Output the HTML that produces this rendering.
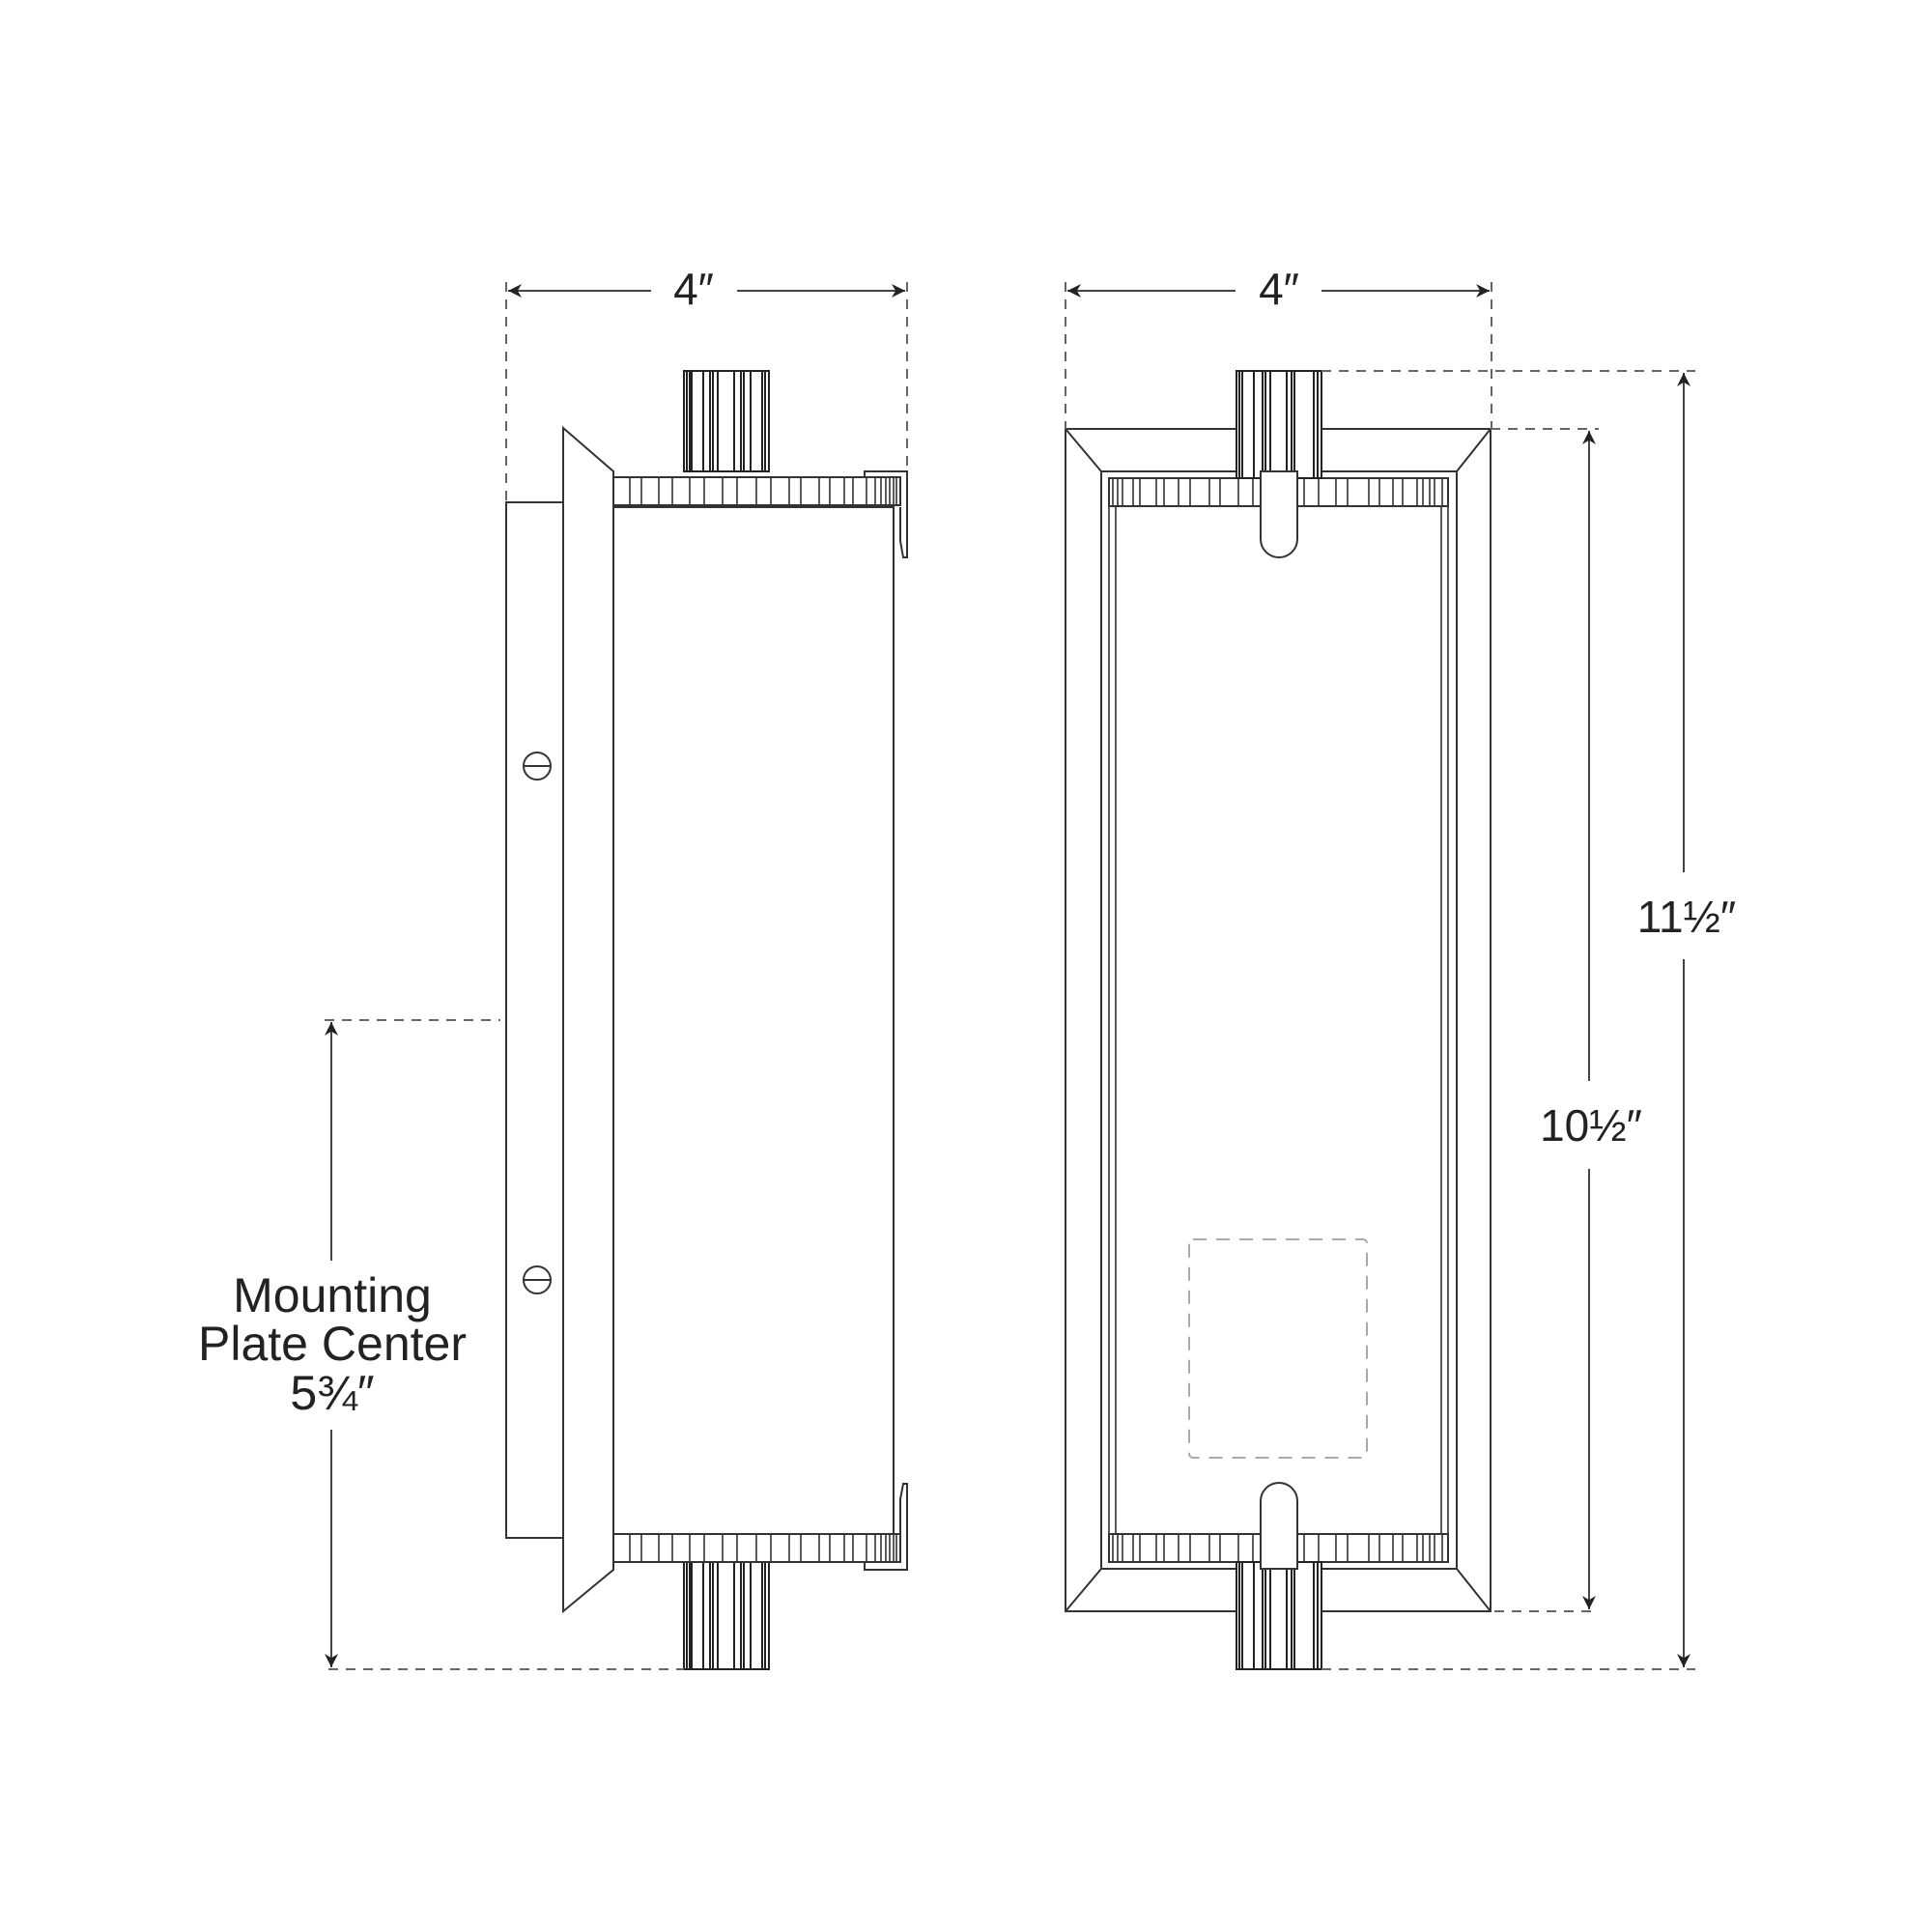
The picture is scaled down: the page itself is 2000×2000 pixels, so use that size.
<!DOCTYPE html>
<html><head><meta charset="utf-8"><style>
html,body{margin:0;padding:0;background:#fff}
svg{display:block}
text{font-family:"Liberation Sans",sans-serif;fill:#222}
</style></head><body>
<svg width="2000" height="2000" viewBox="0 0 2000 2000" xmlns="http://www.w3.org/2000/svg">
<defs>
<marker id="ah" viewBox="0 0 10 10" refX="10" refY="5" markerWidth="14" markerHeight="14" markerUnits="userSpaceOnUse" orient="auto-start-reverse"><path d="M0,0 L10,5 L0,10 L3,5 Z" fill="#222"/></marker>
<g id="bandL"><rect x="635" y="0" width="297" height="29" fill="#fff" stroke="#333" stroke-width="2"/>
<path stroke="#333" stroke-width="1.6" d="M652 0v29M664 0v29M682 0v29M696 0v29M714 0v29M729 0v29M748 0v29M763 0v29M783 0v29M798 0v29M817 0v29M829 0v29M848 0v29M859 0v29M874 0v29M883 0v29M897 0v29M906 0v29M912 0v29M917 0v29M921 0v29M925 0v29M928 0v29"/></g>
<g id="stemL"><rect x="708" y="0" width="88" height="1" fill="none"/>
<path stroke="#222" stroke-width="1.8" d="M708 0v1M710 0v1M713 0v1M715 0v1M728 0v1M735 0v1M738 0v1M743 0v1M760 0v1M767 0v1M769 0v1M777 0v1M789 0v1M791 0v1M796 0v1"/></g>
<g id="bandR"><rect x="1148" y="0" width="351" height="29" fill="#fff" stroke="#333" stroke-width="2"/>
<path stroke="#333" stroke-width="1.6" d="M1152 0v29M1157 0v29M1162 0v29M1173 0v29M1180 0v29M1197 0v29M1205 0v29M1220 0v29M1232 0v29M1252 0v29M1263 0v29M1282 0v29M1297 0v29M1350 0v29M1365 0v29M1383 0v29M1395 0v29M1417 0v29M1428 0v29M1442 0v29M1452 0v29M1467 0v29M1473 0v29M1480 0v29M1485 0v29M1493 0v29"/></g>
</defs>
<g fill="none" stroke="#333" stroke-width="2">
<!-- LEFT VIEW -->
<rect x="524" y="520" width="59" height="1072"/>
<path d="M583 443 L635 488 L635 1625 L583 1668 Z" fill="#fff"/>
<rect x="635" y="525" width="290" height="1063"/>
<!-- stems -->
<g stroke="#222" stroke-width="2">
<rect x="708" y="384" width="88" height="104" fill="#fff"/>
<path d="M711 384v104M714 384v104M716 384v104M728 384v104M735 384v104M738 384v104M743 384v104M760 384v104M767 384v104M770 384v104M777 384v104M789 384v104M792 384v104"/>
<rect x="708" y="1617" width="88" height="111" fill="#fff"/>
<path d="M711 1617v111M714 1617v111M716 1617v111M728 1617v111M735 1617v111M738 1617v111M743 1617v111M760 1617v111M767 1617v111M770 1617v111M777 1617v111M789 1617v111M792 1617v111"/>
</g>
<use href="#bandL" y="494"/>
<use href="#bandL" y="1588"/>
<!-- clips -->
<path d="M895 495 L895 488 L939 488 L939 577 L935 577 L932 560 L932 525" />
<path d="M895 1617 L895 1625 L939 1625 L939 1536 L935 1536 L932 1552 L932 1588" />
<!-- screws -->
<circle cx="556" cy="793" r="14"/><line x1="542" y1="793" x2="570" y2="793"/>
<circle cx="556" cy="1325" r="14"/><line x1="542" y1="1325" x2="570" y2="1325"/>

<!-- RIGHT VIEW -->
<rect x="1103" y="444" width="440" height="1224"/>
<rect x="1140" y="488" width="368" height="1136"/>
<path d="M1103 444 L1140 488 M1543 444 L1508 488 M1103 1668 L1140 1624 M1543 1668 L1508 1624"/>
<path stroke-width="1.6" d="M1148 524V1588M1155 524V1588M1492 524V1588M1499 524V1588"/>
<use href="#bandR" y="495"/>
<use href="#bandR" y="1588"/>
<g stroke="#222" stroke-width="2">
<rect x="1280" y="384" width="88" height="111" fill="#fff"/>
<path d="M1283 384v111M1286 384v111M1298 384v111M1307 384v111M1310 384v111M1315 384v111M1332 384v111M1337 384v111M1340 384v111M1360 384v111M1364 384v111"/>
<rect x="1280" y="1617" width="88" height="111" fill="#fff"/>
<path d="M1283 1617v111M1286 1617v111M1298 1617v111M1307 1617v111M1310 1617v111M1315 1617v111M1332 1617v111M1337 1617v111M1340 1617v111M1360 1617v111M1364 1617v111"/>
</g>
<path d="M1305 488 L1305 558 A19 19 0 0 0 1343 558 L1343 488 Z" fill="#fff"/>
<path d="M1305 1624 L1305 1554 A19 19 0 0 1 1343 1554 L1343 1624 Z" fill="#fff"/>
<rect x="1231" y="1283" width="184" height="226" stroke="#aaa" stroke-dasharray="14 10" rx="4"/>
</g>

<!-- DIMENSIONS -->
<g stroke="#444" stroke-width="2" fill="none">
<g stroke-dasharray="10 8" stroke="#666">
<path d="M524 292V520M939 292V488"/>
<path d="M1103 292V444M1544 292V444"/>
<path d="M1368 384H1755M1543 444H1655M1547 1668H1655M1368 1728H1755"/>
<path d="M336 1056H518M340 1728H708"/>
</g>
<path d="M526 301H674" marker-start="url(#ah)"/>
<path d="M763 301H937" marker-end="url(#ah)"/>
<path d="M1105 301H1279" marker-start="url(#ah)"/>
<path d="M1368 301H1542" marker-end="url(#ah)"/>
<path d="M1743 903V386" marker-end="url(#ah)"/>
<path d="M1743 993V1726" marker-end="url(#ah)"/>
<path d="M1645 1119V446" marker-end="url(#ah)"/>
<path d="M1645 1210V1666" marker-end="url(#ah)"/>
<path d="M343 1305V1058" marker-end="url(#ah)"/>
<path d="M343 1480V1726" marker-end="url(#ah)"/>
</g>
<g font-size="46" text-anchor="middle">
<text x="718" y="315">4″</text>
<text x="1324" y="315">4″</text>
<text x="1746" y="965">11½″</text>
<text x="1647" y="1181">10½″</text>
</g>
<g font-size="50" text-anchor="middle">
<text x="344" y="1358">Mounting</text>
<text x="344" y="1408" textLength="278" lengthAdjust="spacingAndGlyphs">Plate Center</text>
<text x="344" y="1459">5¾″</text>
</g>
</svg>
</body></html>
